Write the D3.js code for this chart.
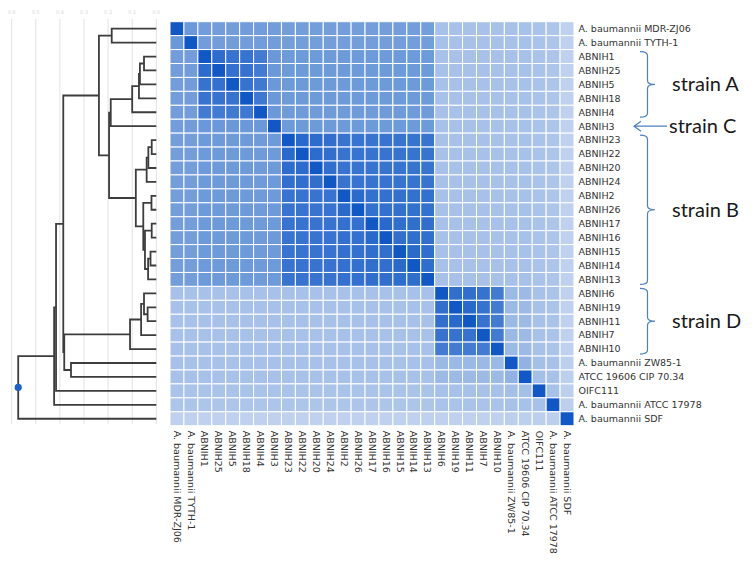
<!DOCTYPE html>
<html><head><meta charset="utf-8">
<script src="https://cdn.jsdelivr.net/npm/d3@7"></script>
<style>body{margin:0;background:#fff}svg{display:block}</style>
</head><body>
<svg id="chart" width="754" height="567"></svg>
<script>
const rowLabels = ["A. baumannii MDR-ZJ06","A. baumannii TYTH-1","ABNIH1","ABNIH25","ABNIH5","ABNIH18","ABNIH4","ABNIH3","ABNIH23","ABNIH22","ABNIH20","ABNIH24","ABNIH2","ABNIH26","ABNIH17","ABNIH16","ABNIH15","ABNIH14","ABNIH13","ABNIH6","ABNIH19","ABNIH11","ABNIH7","ABNIH10","A. baumannii ZW85-1","ATCC 19606 CIP 70.34","OIFC111","A. baumannii ATCC 17978","A. baumannii SDF"];

const similarity = [
[100,57,54,54,54,54,54,54,53,53,53,53,53,53,53,53,53,53,53,33,33,33,33,33,33,33,32,31,24],
[57,100,54,54,54,54,54,54,53,53,53,53,53,53,53,53,53,53,53,33,33,33,33,33,33,33,32,31,24],
[54,54,100,88,84,83,78,57,56,56,56,56,56,56,56,56,56,56,56,33,33,33,33,33,33,33,32,31,24],
[54,54,88,100,85,84,78,57,56,56,56,56,56,56,56,56,56,56,56,33,33,33,33,33,33,33,32,31,24],
[54,54,84,85,100,84,79,57,56,56,56,56,56,56,56,56,56,56,56,33,33,33,33,33,33,33,32,31,24],
[54,54,83,84,84,100,80,57,56,56,56,56,56,56,56,56,56,56,56,33,33,33,33,33,33,33,32,31,24],
[54,54,78,78,79,80,100,57,55,55,55,55,55,55,55,55,55,55,55,33,33,33,33,33,33,33,32,31,24],
[54,54,57,57,57,57,57,100,56,56,56,56,56,56,56,56,56,56,56,33,33,33,33,33,33,33,32,31,24],
[53,53,56,56,56,56,55,56,100,90,88,86,83,83,83,83,83,83,83,33,33,33,33,33,33,33,32,31,24],
[53,53,56,56,56,56,55,56,90,100,88,86,83,83,83,83,83,83,83,33,33,33,33,33,33,33,32,31,24],
[53,53,56,56,56,56,55,56,88,88,100,86,83,83,83,83,83,83,83,33,33,33,33,33,33,33,32,31,24],
[53,53,56,56,56,56,55,56,86,86,86,100,83,83,83,83,83,83,83,33,33,33,33,33,33,33,32,31,24],
[53,53,56,56,56,56,55,56,83,83,83,83,100,89,85,85,85,85,85,33,33,33,33,33,33,33,32,31,24],
[53,53,56,56,56,56,55,56,83,83,83,83,89,100,85,85,85,85,85,33,33,33,33,33,33,33,32,31,24],
[53,53,56,56,56,56,55,56,83,83,83,83,85,85,100,90,86,86,86,33,33,33,33,33,33,33,32,31,24],
[53,53,56,56,56,56,55,56,83,83,83,83,85,85,90,100,86,86,86,33,33,33,33,33,33,33,32,31,24],
[53,53,56,56,56,56,55,56,83,83,83,83,85,85,86,86,100,89,87,33,33,33,33,33,33,33,32,31,24],
[53,53,56,56,56,56,55,56,83,83,83,83,85,85,86,86,89,100,87,33,33,33,33,33,33,33,32,31,24],
[53,53,56,56,56,56,55,56,83,83,83,83,85,85,86,86,87,87,100,33,33,33,33,33,33,33,32,31,24],
[33,33,33,33,33,33,33,33,33,33,33,33,33,33,33,33,33,33,33,100,86,86,84,78,38,37,33,32,24],
[33,33,33,33,33,33,33,33,33,33,33,33,33,33,33,33,33,33,33,86,100,90,84,78,38,37,33,32,24],
[33,33,33,33,33,33,33,33,33,33,33,33,33,33,33,33,33,33,33,86,90,100,84,78,38,37,33,32,24],
[33,33,33,33,33,33,33,33,33,33,33,33,33,33,33,33,33,33,33,84,84,84,100,78,38,37,33,32,24],
[33,33,33,33,33,33,33,33,33,33,33,33,33,33,33,33,33,33,33,78,78,78,78,100,38,37,33,32,24],
[33,33,33,33,33,33,33,33,33,33,33,33,33,33,33,33,33,33,33,38,38,38,38,38,100,42,34,33,25],
[33,33,33,33,33,33,33,33,33,33,33,33,33,33,33,33,33,33,33,37,37,37,37,37,42,100,34,33,25],
[32,32,32,32,32,32,32,32,32,32,32,32,32,32,32,32,32,32,32,33,33,33,33,33,34,34,100,33,25],
[31,31,31,31,31,31,31,31,31,31,31,31,31,31,31,31,31,31,31,32,32,32,32,32,33,33,33,100,25],
[24,24,24,24,24,24,24,24,24,24,24,24,24,24,24,24,24,24,24,24,24,24,24,24,25,25,25,25,100]
];

// linkage: [node id, child 1 (upper), child 2 (lower), merge height]
const linkage = [
["nA3","ABNIH1","ABNIH25",0.051],
["nA2","nA3","ABNIH5",0.068],
["nA1","nA2","ABNIH18",0.072],
["nA","nA1","ABNIH4",0.100],
["nAC","nA","ABNIH3",0.189],
["nB4","ABNIH23","ABNIH22",0.019],
["nB3","nB4","ABNIH20",0.033],
["nB1","nB3","ABNIH24",0.040],
["nB5","ABNIH2","ABNIH26",0.020],
["nB7","ABNIH17","ABNIH16",0.019],
["nB9","ABNIH15","ABNIH14",0.024],
["nB8","nB9","ABNIH13",0.034],
["nB6","nB7","nB8",0.047],
["nB2","nB5","nB6",0.054],
["nB","nB1","nB2",0.085],
["nACB","nAC","nB",0.196],
["nM","A. baumannii MDR-ZJ06","A. baumannii TYTH-1",0.185],
["nTop","nM","nACB",0.238],
["nD3","ABNIH19","ABNIH11",0.036],
["nD2","ABNIH6","nD3",0.051],
["nD1","nD2","ABNIH7",0.063],
["nD","nD1","ABNIH10",0.109],
["nZ","A. baumannii ZW85-1","ATCC 19606 CIP 70.34",0.354],
["nDZ","nD","nZ",0.382],
["n3","nTop","nDZ",0.386],
["n2","n3","OIFC111",0.416],
["n1","n2","A. baumannii ATCC 17978",0.424],
["root","n1","A. baumannii SDF",0.573]
];

const treeTicks = [0, 0.1, 0.2, 0.3, 0.4, 0.5, 0.6];

const strainBrackets = [
  {label:"strain A", from:"ABNIH1", to:"ABNIH4"},
  {label:"strain B", from:"ABNIH23", to:"ABNIH13"},
  {label:"strain D", from:"ABNIH6", to:"ABNIH10"}
];
const strainArrows = [{label:"strain C", at:"ABNIH3"}];

const svg = d3.select("#chart");
svg.append("rect").attr("width",754).attr("height",567).attr("fill","#fff");

const hmLeft = 170, hmTop = 21.7, hmSize = 404;
const x = d3.scaleBand().domain(d3.range(rowLabels.length)).range([hmLeft, hmLeft+hmSize]);
const y = d3.scaleBand().domain(d3.range(rowLabels.length)).range([hmTop, hmTop+hmSize]);
const color = d3.scaleLinear().domain([24, 55, 85, 100])
  .range(["#bfd1ee", "#6f9bd9", "#3471ce", "#1258c4"]);

// dendrogram scale
const tx = d3.scaleLinear().domain([0, 0.6]).range([156.3, 11.7]);
const g0 = svg.append("g");
g0.selectAll("line.grid").data(treeTicks).join("line")
  .attr("x1", d=>tx(d)).attr("x2", d=>tx(d))
  .attr("y1", 19).attr("y2", 424)
  .attr("stroke", "#e2e2e2").attr("stroke-width", 1);
g0.selectAll("text.tick").data(treeTicks).join("text")
  .attr("x", d=>tx(d)).attr("y", 14)
  .attr("text-anchor","middle")
  .attr("font-family","DejaVu Sans").attr("font-size",5)
  .attr("fill","#d8d8d8")
  .text(d=>d3.format(".1f")(d));

// build tree
const nodes = {};
rowLabels.forEach((l,i)=>{ nodes[l] = {id:l, h:0, y: y(i)+y.bandwidth()/2, leaf:true}; });
linkage.forEach(([id,a,b,h])=>{
  const A = nodes[a], B = nodes[b];
  nodes[id] = {id, h, children:[A,B], y:(A.y+B.y)/2};
});
const links = [];
linkage.forEach(([id])=>{
  const n = nodes[id];
  const [A,B] = n.children;
  links.push(`M${tx(A.h)},${A.y}H${tx(n.h)}V${B.y}H${tx(B.h)}`);
});
g0.selectAll("path.link").data(links).join("path")
  .attr("d", d=>d).attr("fill","none")
  .attr("stroke","#3d3d3d").attr("stroke-width",1.8);
const root = nodes["root"];
g0.append("circle").attr("cx", tx(root.h)).attr("cy", root.y).attr("r", 3.6).attr("fill","#1f60c2");

// heatmap
const cells = [];
similarity.forEach((row,i)=>row.forEach((v,j)=>cells.push({i,j,v})));
svg.append("g").selectAll("rect").data(cells).join("rect")
  .attr("x", d=>x(d.j)).attr("y", d=>y(d.i))
  .attr("width", x.bandwidth()).attr("height", y.bandwidth())
  .attr("fill", d=>color(d.v))
  .attr("stroke","#fff").attr("stroke-width",1);

// right labels
svg.append("g").selectAll("text").data(rowLabels).join("text")
  .attr("x", hmLeft+hmSize+4.5).attr("y", (d,i)=>y(i)+y.bandwidth()/2)
  .attr("dy","0.35em")
  .attr("font-family","DejaVu Sans").attr("font-size",9.5).attr("fill","#333")
  .text(d=>d);

// bottom labels
svg.append("g").selectAll("text").data(rowLabels).join("text")
  .attr("transform", (d,i)=>`translate(${x(i)+x.bandwidth()/2},${hmTop+hmSize+5}) rotate(90)`)
  .attr("dy","0.35em")
  .attr("font-family","DejaVu Sans").attr("font-size",9.5).attr("fill","#333")
  .text(d=>d);

// annotations
const ann = svg.append("g");
const bx = 640, bw = 15, br = 4;
function brace(y1, y2){
  const ym = (y1+y2)/2, sx = bx + bw/2;
  return `M${bx},${y1}Q${sx},${y1} ${sx},${y1+br}L${sx},${ym-br}Q${sx},${ym} ${bx+bw},${ym}`+
         `Q${sx},${ym} ${sx},${ym+br}L${sx},${y2-br}Q${sx},${y2} ${bx},${y2}`;
}
strainBrackets.forEach(b=>{
  const i1 = rowLabels.indexOf(b.from), i2 = rowLabels.indexOf(b.to);
  const y1 = y(i1)+2, y2 = y(i2)+y.bandwidth()-2;
  ann.append("path").attr("d", brace(y1,y2)).attr("fill","none")
    .attr("stroke","#4f7fbf").attr("stroke-width",1.2);
  ann.append("text").attr("x", bx+bw+17).attr("y", (y1+y2)/2+7)
    .attr("font-family","Lato").attr("font-size",20).attr("fill","#1a1a1a")
    .text(b.label);
});
strainArrows.forEach(a=>{
  const i = rowLabels.indexOf(a.at);
  const yy = y(i)+y.bandwidth()/2;
  ann.append("path").attr("d", `M667,${yy}H634M641,${yy-5}L634,${yy}L641,${yy+5}`)
    .attr("fill","none").attr("stroke","#4f7fbf").attr("stroke-width",1.2);
  ann.append("text").attr("x", 669).attr("y", yy+7)
    .attr("font-family","Lato").attr("font-size",20).attr("fill","#1a1a1a")
    .text(a.label);
});
</script>
</body></html>
